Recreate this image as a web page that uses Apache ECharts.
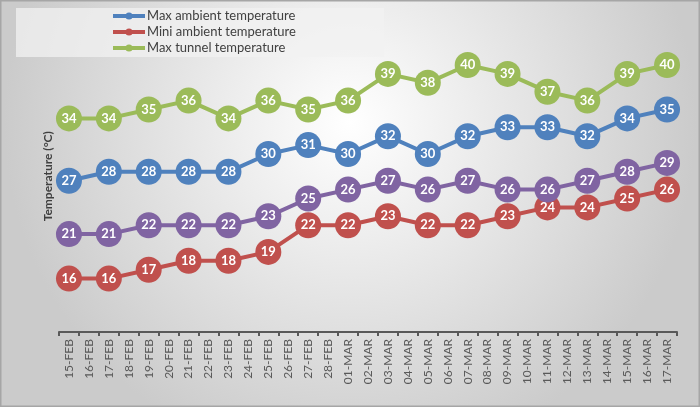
<!DOCTYPE html>
<html>
<head>
<meta charset="utf-8">
<script src="https://cdn.jsdelivr.net/npm/echarts@6/dist/echarts.min.js"></script>
<style>html,body{margin:0;padding:0;}#c{width:700px;height:407px;}</style>
</head>
<body>
<div id="c"></div>
<script>
var categories = ['15-FEB','16-FEB','17-FEB','18-FEB','19-FEB','20-FEB','21-FEB','22-FEB','23-FEB','24-FEB','25-FEB','26-FEB','27-FEB','28-FEB','01-MAR','02-MAR','03-MAR','04-MAR','05-MAR','06-MAR','07-MAR','08-MAR','09-MAR','10-MAR','11-MAR','12-MAR','13-MAR','14-MAR','15-MAR','16-MAR','17-MAR'];
// measurement days (every other day)
var measuredDays = ['15-FEB','17-FEB','19-FEB','21-FEB','23-FEB','25-FEB','27-FEB','01-MAR','03-MAR','05-MAR','07-MAR','09-MAR','11-MAR','13-MAR','15-MAR','17-MAR'];
var maxAmbient  = [27,28,28,28,28,30,31,30,32,30,32,33,33,32,34,35];
var minAmbient  = [16,16,17,18,18,19,22,22,23,22,22,23,24,24,25,26];
var maxTunnel   = [34,34,35,36,34,36,35,36,39,38,40,39,37,36,39,40];
var fourthSeries= [21,21,22,22,22,23,25,26,27,26,27,26,26,27,28,29];
var seriesNames = ['Max ambient temperature','Mini ambient temperature','Max tunnel temperature',''];
var yTitle = 'Temperature (°C)';

function toCat(vals){
  return categories.map(function(c){
    var i = measuredDays.indexOf(c);
    return i >= 0 ? vals[i] : null;
  });
}

var colors = ['#4F81BD','#C0504D','#9BBB59','#8064A2'];
var font = 'Lato, "Open Sans", sans-serif';

function mk(name, vals, color){
  return {
    name: name, type: 'line', data: toCat(vals), connectNulls: true,
    symbol: 'circle', symbolSize: 26,
    lineStyle: {width: 4, color: color},
    itemStyle: {color: color},
    label: {show: true, position: 'inside', color: '#fff', fontWeight: 'bold', fontSize: 13, fontFamily: font},
    emphasis: {disabled: true},
    animation: false
  };
}

var chart = echarts.init(document.getElementById('c'), null, {renderer: 'canvas'});
chart.setOption({
  backgroundColor: {
    type: 'radial', x: 0.5, y: 0.3, r: 0.85,
    colorStops: [{offset: 0, color: '#ffffff'}, {offset: 1, color: '#cbcbcb'}]
  },
  animation: false,
  graphic: [
    {type: 'rect', z: -10, shape: {x: 0.5, y: 0.5, width: 699, height: 406}, style: {fill: 'none', stroke: '#a6a6a6', lineWidth: 2}},
    {type: 'rect', z: -10, shape: {x: 16, y: 8, width: 368, height: 49}, style: {fill: 'rgba(242,242,242,0.75)'}}
  ],
  legend: {
    data: seriesNames.slice(0,3),
    orient: 'vertical', left: 111, top: 8,
    itemWidth: 32, itemHeight: 9, itemGap: 0, padding: 0,
    itemStyle: {borderWidth: 0},
    lineStyle: {width: 4},
    textStyle: {fontSize: 13, lineHeight: 16, color: '#404040', fontFamily: font, padding: [0,0,0,-3]}
  },
  grid: {left: 59, right: 23, top: 20.5, bottom: 75, containLabel: false},
  xAxis: {
    type: 'category', data: categories, boundaryGap: true,
    axisLine: {lineStyle: {color: '#595959', width: 2}},
    axisTick: {show: true, alignWithLabel: false, length: 4, lineStyle: {color: '#595959', width: 2}, interval: 0},
    axisLabel: {rotate: 90, interval: 0, fontSize: 12, color: '#595959', fontFamily: font, margin: 7}
  },
  yAxis: {
    type: 'value', min: 10, max: 45,
    name: yTitle, nameLocation: 'middle', nameGap: 5,
    nameTextStyle: {fontSize: 12, fontWeight: 'bold', color: '#404040', fontFamily: font},
    axisLine: {show: false}, axisTick: {show: false}, axisLabel: {show: false}, splitLine: {show: false}
  },
  series: [
    mk(seriesNames[0], maxAmbient, colors[0]),
    mk(seriesNames[1], minAmbient, colors[1]),
    mk(seriesNames[2], maxTunnel, colors[2]),
    mk(seriesNames[3], fourthSeries, colors[3])
  ]
});
</script>
</body>
</html>
